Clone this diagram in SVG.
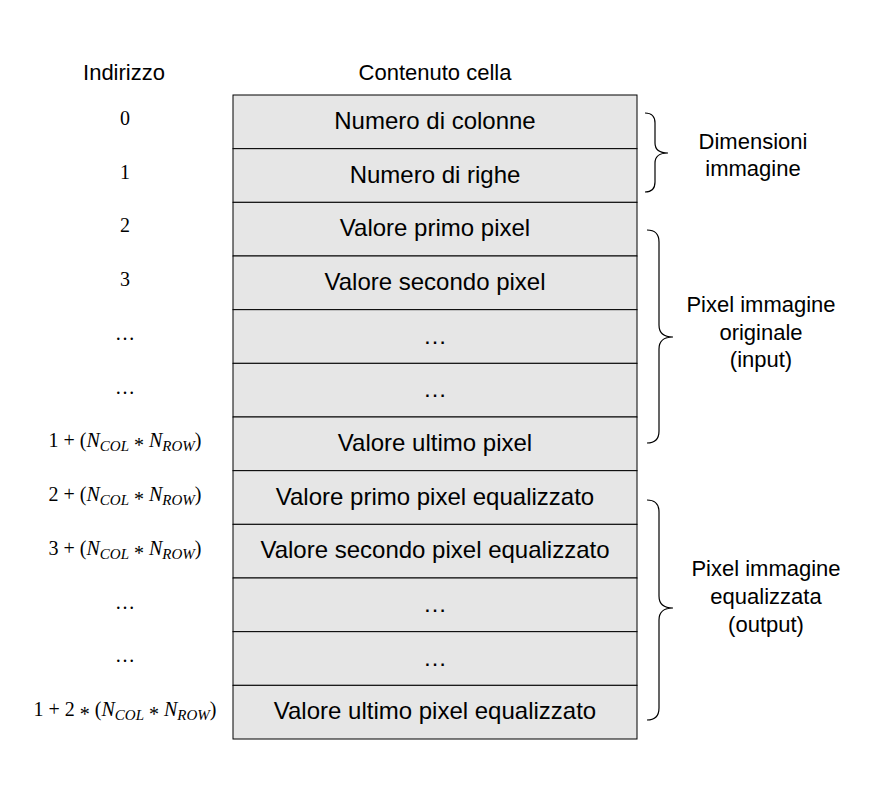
<svg xmlns="http://www.w3.org/2000/svg" width="886" height="808" viewBox="0 0 886 808">
<style>
.cell{fill:#e6e6e6;stroke:#000;stroke-width:1}
.t{font-family:"Liberation Sans",Arial,sans-serif;font-size:24px;fill:#000;text-anchor:middle}
.h{font-family:"Liberation Sans",Arial,sans-serif;font-size:22px;fill:#000;text-anchor:middle}
.a{font-family:"Liberation Serif","Times New Roman",serif;font-size:20px;fill:#000;text-anchor:middle}
.i{font-style:italic}
.brace{fill:none;stroke:#000;stroke-width:1.2}
</style>
<rect width="886" height="808" fill="#fff"/>
<text class="h" x="124" y="80">Indirizzo</text>
<text class="h" x="435" y="80">Contenuto cella</text>
<g id="cells">
<rect class="cell" x="233" y="95" width="404" height="53.67"/>
<rect class="cell" x="233" y="148.67" width="404" height="53.67"/>
<rect class="cell" x="233" y="202.33" width="404" height="53.67"/>
<rect class="cell" x="233" y="256" width="404" height="53.67"/>
<rect class="cell" x="233" y="309.67" width="404" height="53.67"/>
<rect class="cell" x="233" y="363.33" width="404" height="53.67"/>
<rect class="cell" x="233" y="417" width="404" height="53.67"/>
<rect class="cell" x="233" y="470.67" width="404" height="53.67"/>
<rect class="cell" x="233" y="524.33" width="404" height="53.67"/>
<rect class="cell" x="233" y="578" width="404" height="53.67"/>
<rect class="cell" x="233" y="631.67" width="404" height="53.67"/>
<rect class="cell" x="233" y="685.33" width="404" height="53.67"/>
</g>
<g id="cell-texts">
<text class="t" x="435" y="129">Numero di colonne</text>
<text class="t" x="435" y="183">Numero di righe</text>
<text class="t" x="435" y="236">Valore primo pixel</text>
<text class="t" x="435" y="290">Valore secondo pixel</text>
<text class="t" x="435" y="344">…</text>
<text class="t" x="435" y="397">…</text>
<text class="t" x="435" y="451">Valore ultimo pixel</text>
<text class="t" x="435" y="505">Valore primo pixel equalizzato</text>
<text class="t" x="435" y="558">Valore secondo pixel equalizzato</text>
<text class="t" x="435" y="612">…</text>
<text class="t" x="435" y="666">…</text>
<text class="t" x="435" y="719">Valore ultimo pixel equalizzato</text>
</g>
<g id="addresses">
<text class="a" x="125" y="125" font-size="17">0</text>
<text class="a" x="125" y="179" font-size="17">1</text>
<text class="a" x="125" y="232" font-size="17">2</text>
<text class="a" x="125" y="286" font-size="17">3</text>
<text class="a" x="125" y="340" font-size="17">…</text>
<text class="a" x="125" y="394" font-size="17">…</text>
<text class="a" x="125" y="447">1 + (<tspan class="i">N</tspan><tspan class="i" font-size="15" dy="4">COL</tspan><tspan dy="0"> </tspan><tspan dy="1">*</tspan><tspan dy="-5"> </tspan><tspan class="i">N</tspan><tspan class="i" font-size="15" dy="4">ROW</tspan><tspan dy="-4">)</tspan></text>
<text class="a" x="125" y="501">2 + (<tspan class="i">N</tspan><tspan class="i" font-size="15" dy="4">COL</tspan><tspan dy="0"> </tspan><tspan dy="1">*</tspan><tspan dy="-5"> </tspan><tspan class="i">N</tspan><tspan class="i" font-size="15" dy="4">ROW</tspan><tspan dy="-4">)</tspan></text>
<text class="a" x="125" y="555">3 + (<tspan class="i">N</tspan><tspan class="i" font-size="15" dy="4">COL</tspan><tspan dy="0"> </tspan><tspan dy="1">*</tspan><tspan dy="-5"> </tspan><tspan class="i">N</tspan><tspan class="i" font-size="15" dy="4">ROW</tspan><tspan dy="-4">)</tspan></text>
<text class="a" x="125" y="609" font-size="17">…</text>
<text class="a" x="125" y="662" font-size="17">…</text>
<text class="a" x="125" y="716">1 + 2 <tspan dy="5">*</tspan><tspan dy="-5"> (</tspan><tspan class="i">N</tspan><tspan class="i" font-size="15" dy="4">COL</tspan><tspan dy="0"> </tspan><tspan dy="1">*</tspan><tspan dy="-5"> </tspan><tspan class="i">N</tspan><tspan class="i" font-size="15" dy="4">ROW</tspan><tspan dy="-4">)</tspan></text>
</g>
<g id="braces">
<path class="brace" d="M645,113 Q655,113 655,123 L655,143 Q655,153 668,153 Q655,153 655,163 L655,182 Q655,192 645,192"/>
<path class="brace" d="M647,230 Q659,230 659,242 L659,325 Q659,337 673,337 Q659,337 659,349 L659,431 Q659,443 647,443"/>
<path class="brace" d="M647,500 Q659,500 659,512 L659,596 Q659,608 673,608 Q659,608 659,620 L659,708 Q659,720 647,720"/>
</g>
<g id="brace-labels">
<text class="h" x="753" y="149">Dimensioni</text>
<text class="h" x="753" y="176">immagine</text>
<text class="h" x="761" y="312">Pixel immagine</text>
<text class="h" x="761" y="340">originale</text>
<text class="h" x="761" y="367">(input)</text>
<text class="h" x="766" y="576">Pixel immagine</text>
<text class="h" x="766" y="604">equalizzata</text>
<text class="h" x="766" y="632">(output)</text>
</g>
</svg>
